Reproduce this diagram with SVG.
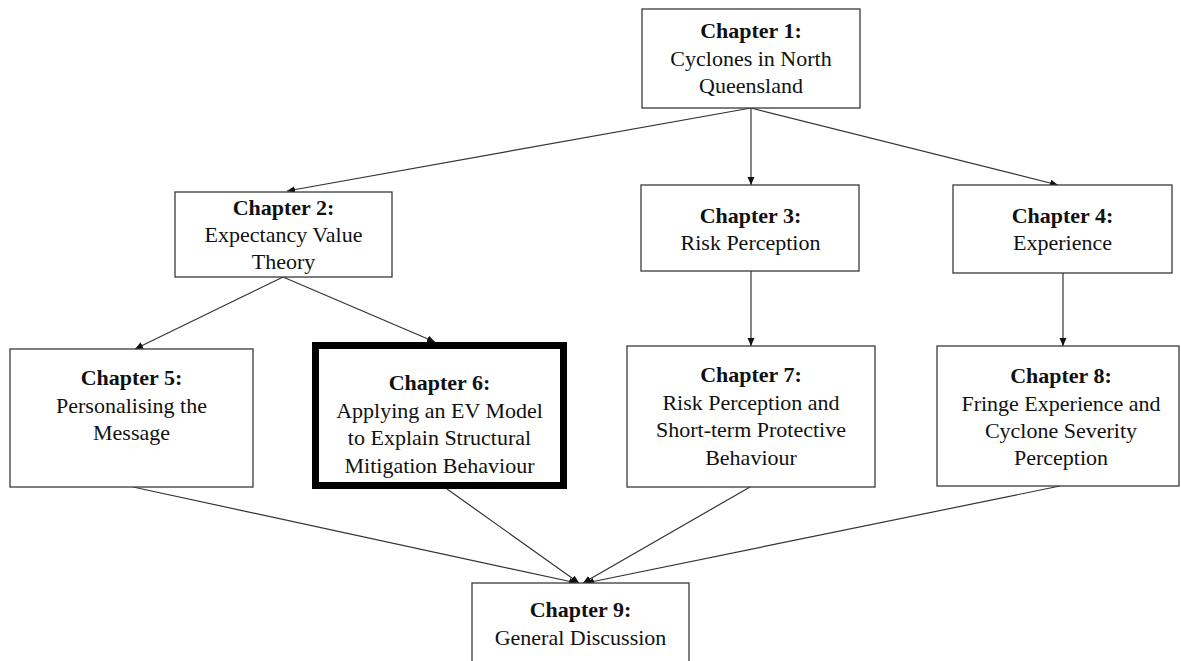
<svg xmlns="http://www.w3.org/2000/svg" width="1181" height="661" viewBox="0 0 1181 661">
<style>
.box{fill:#fff;stroke:#3a3a3a;stroke-width:1.3}
.thick{fill:#fff;stroke:#000;stroke-width:7}
text{font-family:"Liberation Serif","Times New Roman",serif;font-size:22px;fill:#111;text-anchor:middle}
.b{font-weight:bold}
.conn line{stroke:#333;stroke-width:1.2;marker-end:url(#arr)}
</style>
<defs>
<marker id="arr" markerUnits="userSpaceOnUse" markerWidth="9" markerHeight="8" refX="8" refY="3.5" orient="auto">
<path d="M0,0 L8,3.5 L0,7 z" fill="#111"/>
</marker>
</defs>
<rect width="1181" height="661" fill="#fff"/>
<g id="connectors" class="conn">
<line x1="751" y1="108" x2="287" y2="191"/>
<line x1="751" y1="108" x2="751" y2="185"/>
<line x1="751" y1="108" x2="1058" y2="185"/>
<line x1="283" y1="277" x2="135" y2="349"/>
<line x1="283" y1="277" x2="435" y2="342"/>
<line x1="751" y1="271" x2="751" y2="346"/>
<line x1="1063" y1="273" x2="1063" y2="346"/>
<line x1="133" y1="487" x2="577" y2="583"/>
<line x1="447" y1="489" x2="579" y2="583"/>
<line x1="750" y1="487" x2="583" y2="583"/>
<line x1="1060" y1="486" x2="586" y2="583"/>
</g>
<g id="ch1">
<rect class="box" x="642" y="9" width="218" height="99"/>
<text class="b" x="751" y="38">Chapter 1:</text>
<text x="751" y="65.5">Cyclones in North</text>
<text x="751" y="93">Queensland</text>
</g>
<g id="ch2">
<rect class="box" x="175" y="192" width="217" height="85"/>
<text class="b" x="283.5" y="215">Chapter 2:</text>
<text x="283.5" y="242">Expectancy Value</text>
<text x="283.5" y="269">Theory</text>
</g>
<g id="ch3">
<rect class="box" x="641" y="185" width="218" height="86"/>
<text class="b" x="750.5" y="223">Chapter 3:</text>
<text x="750.5" y="250">Risk Perception</text>
</g>
<g id="ch4">
<rect class="box" x="953" y="185" width="219" height="88"/>
<text class="b" x="1062.5" y="223">Chapter 4:</text>
<text x="1062.5" y="250">Experience</text>
</g>
<g id="ch5">
<rect class="box" x="10" y="349" width="243" height="138"/>
<text class="b" x="131.5" y="385">Chapter 5:</text>
<text x="131.5" y="412.5">Personalising the</text>
<text x="131.5" y="440">Message</text>
</g>
<g id="ch6">
<rect class="thick" x="315.5" y="345.5" width="248" height="140"/>
<text class="b" x="439.5" y="390">Chapter 6:</text>
<text x="439.5" y="417.5">Applying an EV Model</text>
<text x="439.5" y="445">to Explain Structural</text>
<text x="439.5" y="472.5">Mitigation Behaviour</text>
</g>
<g id="ch7">
<rect class="box" x="627" y="346" width="248" height="141"/>
<text class="b" x="751" y="382">Chapter 7:</text>
<text x="751" y="409.5">Risk Perception and</text>
<text x="751" y="437">Short-term Protective</text>
<text x="751" y="464.5">Behaviour</text>
</g>
<g id="ch8">
<rect class="box" x="937" y="346" width="242" height="140"/>
<text class="b" x="1061" y="383">Chapter 8:</text>
<text x="1061" y="410.5">Fringe Experience and</text>
<text x="1061" y="437.5">Cyclone Severity</text>
<text x="1061" y="464.5">Perception</text>
</g>
<g id="ch9">
<rect class="box" x="472" y="583" width="217" height="90"/>
<text class="b" x="580.5" y="617">Chapter 9:</text>
<text x="580.5" y="644.5">General Discussion</text>
</g>
</svg>
